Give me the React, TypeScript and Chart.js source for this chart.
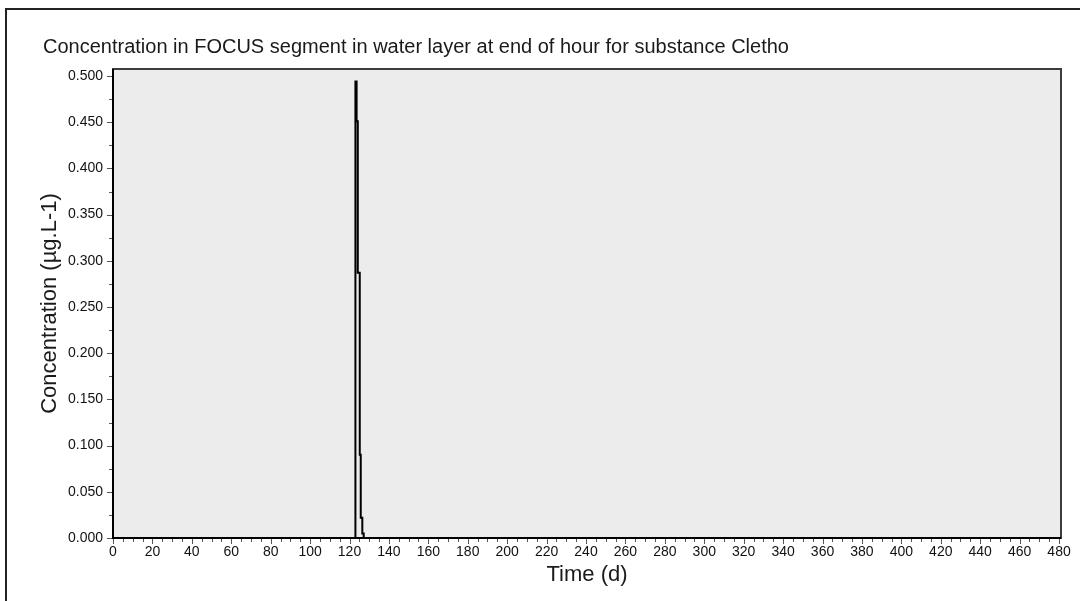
import React, { useEffect, useRef } from "react";
import { Chart, registerables } from "chart.js";

Chart.register(...registerables);

// Hourly water-layer concentration, reduced to the points where the value changes
const TIME_D = [0, 123.0, 123.6, 124.2, 125.2, 125.7, 126.5, 127.2, 481];
const CONC = [0, 0.494, 0.451, 0.287, 0.09, 0.022, 0.005, 0, 0];

const X_TICKS = Array.from({ length: 25 }, (_, i) => i * 20);
const X_MINOR_STEP = 5;
const Y_TICKS = [0, 0.05, 0.1, 0.15, 0.2, 0.25, 0.3, 0.35, 0.4, 0.45, 0.5];
const Y_MINOR_STEP = 0.025;

const TITLE = "Concentration in FOCUS segment in water layer at end of hour for substance Cletho";
const X_TITLE = "Time (d)";
const Y_TITLE = "Concentration (µg.L-1)";

const FONT = "'Liberation Sans', Arial, sans-serif";

// Chart heading, left-aligned above the plot frame
const heading = {
  id: "heading",
  afterDraw(chart: any) {
    const { ctx } = chart;
    ctx.save();
    ctx.font = `20px ${FONT}`;
    ctx.fillStyle = "#1a1a1a";
    ctx.textAlign = "left";
    ctx.textBaseline = "middle";
    ctx.fillText(TITLE, 43, 47);
    ctx.restore();
  },
};

const plotFrame = {
  id: "plotFrame",
  beforeDatasetsDraw(chart: any) {
    const { ctx, chartArea: a } = chart;
    ctx.save();
    ctx.fillStyle = "#ececec";
    ctx.fillRect(a.left, a.top, a.right - a.left, a.bottom - a.top);
    ctx.restore();
  },
  afterDraw(chart: any) {
    const { ctx, chartArea: a, scales } = chart;
    const x = scales.x;
    const y = scales.y;
    ctx.save();
    // frame around plot area
    ctx.strokeStyle = "#3c3c3c";
    ctx.lineWidth = 2;
    ctx.strokeRect(a.left, a.top, a.right - a.left, a.bottom - a.top);
    ctx.strokeStyle = "#000";
    ctx.beginPath();
    ctx.moveTo(a.left, a.top);
    ctx.lineTo(a.left, a.bottom);
    ctx.lineTo(a.right, a.bottom);
    ctx.stroke();
    // tick marks
    ctx.lineWidth = 1;
    ctx.strokeStyle = "#555";
    ctx.beginPath();
    for (let v = 0; v <= 480 + 1e-9; v += X_MINOR_STEP) {
      const px = Math.round(x.getPixelForValue(v)) + 0.5;
      const major = X_TICKS.includes(Math.round(v));
      ctx.moveTo(px, a.bottom + 1);
      ctx.lineTo(px, a.bottom + (major ? 6 : 4));
    }
    for (let v = 0; v <= 0.5 + 1e-9; v += Y_MINOR_STEP) {
      const py = Math.round(y.getPixelForValue(v)) + 0.5;
      const major = Math.abs(Math.round(v / 0.05) * 0.05 - v) < 1e-9;
      ctx.moveTo(a.left - 1, py);
      ctx.lineTo(a.left - (major ? 6 : 4), py);
    }
    ctx.stroke();
    ctx.restore();
  },
};

export default function App() {
  const ref = useRef<HTMLCanvasElement | null>(null);

  useEffect(() => {
    if (!ref.current) return;
    const chart = new Chart(ref.current, {
      type: "line",
      data: {
        datasets: [
          {
            data: TIME_D.map((t, i) => ({ x: t, y: CONC[i] })),
            borderColor: "#000",
            borderWidth: 2,
            pointRadius: 0,
            stepped: "before",
            fill: false,
          },
        ],
      },
      options: {
        animation: false,
        responsive: false,
        layout: { padding: { left: 37, right: 19, top: 69, bottom: 13 } },
        plugins: {
          legend: { display: false },
          tooltip: { enabled: false },
          title: { display: false },
        },
        scales: {
          x: {
            type: "linear",
            min: 0,
            max: 481,
            afterBuildTicks: (s: any) => {
              s.ticks = X_TICKS.map((v) => ({ value: v }));
            },
            afterFit: (s: any) => {
              s.height = 50;
            },
            ticks: {
              autoSkip: false,
              maxRotation: 0,
              padding: 6,
              color: "#111",
              font: { family: FONT, size: 14 },
              callback: (v: any) => String(v),
            },
            grid: { display: true, drawOnChartArea: false, drawTicks: false, color: "transparent" },
            border: { display: false },
            title: {
              display: true,
              text: X_TITLE,
              color: "#1a1a1a",
              font: { family: FONT, size: 22 },
              padding: { top: 0, bottom: 0 },
            },
          },
          y: {
            type: "linear",
            min: 0,
            max: 0.5076,
            afterBuildTicks: (s: any) => {
              s.ticks = Y_TICKS.map((v) => ({ value: v }));
            },
            afterFit: (s: any) => {
              s.width = 76;
            },
            ticks: {
              autoSkip: false,
              padding: 10,
              color: "#111",
              font: { family: FONT, size: 14 },
              callback: (v: any) => Number(v).toFixed(3),
            },
            grid: { display: true, drawOnChartArea: false, drawTicks: false, color: "transparent" },
            border: { display: false },
            title: {
              display: true,
              text: Y_TITLE,
              color: "#1a1a1a",
              font: { family: FONT, size: 22 },
              padding: { top: 0, bottom: 0 },
            },
          },
        },
      },
      plugins: [plotFrame, heading],
    });
    return () => chart.destroy();
  }, []);

  return (
    <div
      style={{
        position: "fixed",
        left: 0,
        top: 0,
        width: 1080,
        height: 601,
        overflow: "hidden",
        background: "#fff",
      }}
    >
      <div
        style={{
          position: "absolute",
          left: 5,
          top: 8,
          width: 1100,
          height: 700,
          borderTop: "2px solid #222",
          borderLeft: "2px solid #222",
        }}
      />
      <canvas ref={ref} width={1080} height={601} style={{ position: "absolute", left: 0, top: 0 }} />
    </div>
  );
}
